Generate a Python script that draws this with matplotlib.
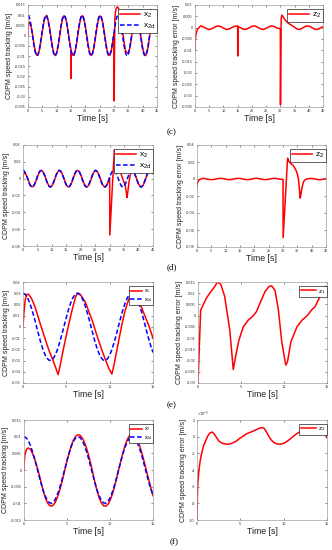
import numpy as np
import matplotlib
matplotlib.use('Agg')
import matplotlib.pyplot as plt
from matplotlib.ticker import FuncFormatter
from matplotlib.lines import Line2D

plt.rcParams['font.family'] = ['Liberation Sans', 'DejaVu Sans']
plt.rcParams['mathtext.fontset'] = 'custom'
plt.rcParams['mathtext.rm'] = 'Liberation Sans'
plt.rcParams['mathtext.it'] = 'Liberation Sans'

# ---------------- data ----------------
# 45 s runs, 0.5 s sampling
t45 = np.arange(0, 45.01, 0.5)
x2d_45 = [0.0100, 0.0088, 0.0054, 0.0007, -0.0042, -0.0080, -0.0099, -0.0094, -0.0065, -0.0021,
          0.0028, 0.0071, 0.0096, 0.0098, 0.0075, 0.0035, -0.0015, -0.0060, -0.0091, -0.0100,
          -0.0084, -0.0048, 0.0000, 0.0048, 0.0084, 0.0100, 0.0091, 0.0060, 0.0014, -0.0036,
          -0.0076, -0.0098, -0.0096, -0.0070, -0.0028, 0.0022, 0.0066, 0.0094, 0.0099, 0.0080,
          0.0041, -0.0008, -0.0055, -0.0088, -0.0100, -0.0087, -0.0053, -0.0006, 0.0042, 0.0081,
          0.0099, 0.0093, 0.0065, 0.0020, -0.0029, -0.0072, -0.0096, -0.0098, -0.0075, -0.0034,
          0.0015, 0.0061, 0.0092, 0.0100, 0.0083, 0.0047, -0.0001, -0.0049, -0.0085, -0.0100,
          -0.0090, -0.0059, -0.0013, 0.0036, 0.0077, 0.0098, 0.0096, 0.0070, 0.0027, -0.0023,
          -0.0067, -0.0094, -0.0099, -0.0079, -0.0040, 0.0009, 0.0056, 0.0089, 0.0100, 0.0087,
          0.0053]
x2_45 = [0.0100, 0.0088, 0.0059, 0.0014, -0.0034, -0.0074, -0.0096, -0.0094, -0.0069, -0.0027,
         0.0020, 0.0065, 0.0092, 0.0098, 0.0078, 0.0041, -0.0007, -0.0053, -0.0086, -0.0098,
         -0.0086, -0.0053, -0.0008, 0.0041, 0.0078, 0.0097, 0.0092, 0.0064, 0.0021, -0.0029,
         -0.0076, -0.0095, -0.0096, -0.0074, -0.0035, 0.0015, 0.0059, 0.0090, 0.0098, 0.0083,
         0.0047, -0.0001, -0.0047, -0.0083, -0.0098, -0.0089, -0.0058, -0.0013, 0.0034, 0.0075,
         0.0096, 0.0093, 0.0069, 0.0026, -0.0021, -0.0066, -0.0092, -0.0098, -0.0078, -0.0038,
         0.0015, 0.0061, 0.0092, 0.0100, 0.0083, 0.0047, -0.0001, -0.0049, -0.0085, -0.0100,
         -0.0091, -0.0063, -0.0020, 0.0029, 0.0070, 0.0095, 0.0096, 0.0074, 0.0034, -0.0016,
         -0.0060, -0.0090, -0.0098, -0.0082, -0.0046, 0.0002, 0.0048, 0.0084, 0.0098, 0.0089,
         0.0058]
# error ripple, 1 s sampling
t45e = np.arange(0, 45.01, 1.0)
z2_45 = [-0.0100, 0.0005, 0.0008, 0.0003, -0.0004, -0.0008, -0.0004, 0.0003, 0.0008, 0.0005,
         -0.0002, -0.0008, -0.0006, 0.0001, 0.0007, 0.0007, 0.0000, -0.0007, -0.0007, -0.0001,
         0.0006, 0.0008, 0.0002, -0.0005, -0.0008, -0.0003, 0.0004, 0.0008, 0.0004, -0.0003,
         -0.0005, 0.0, 0.0, 0.0, 0.0, -0.0001, -0.0007, -0.0007, 0.0000, 0.0007,
         0.0007, 0.0001, -0.0006, -0.0008, -0.0002, 0.0005]

# start transient (shared by the speed loops)
st_t = [0, 0.05, 0.1, 0.2, 0.3, 0.4, 0.5, 0.75, 1.0]
st_x2 = [0.0, 0.0030, 0.0045, 0.0055, 0.0062, 0.0065, 0.0066, 0.0062, 0.0049]
st_z2 = [-0.0100, -0.0070, -0.0055, -0.0043, -0.0034, -0.0027, -0.0022, -0.0011, -0.0005]

# (c) disturbance events
c15_t = [14.9, 15.0, 15.02, 15.1, 15.3]
c15_x2 = [-0.0062, -0.0068, -0.0210, -0.0077, -0.0088]
c15_z2 = [0.0006, 0.0008, -0.0125, 0.0005, 0.0004]
c30_t = [29.5, 29.9, 30.0, 30.05, 30.15, 30.3, 30.5, 30.8, 31.2, 31.6, 32.2, 33.0, 34.0, 35.0]
c30_x2 = [-0.0037, 0.0001, 0.0009, -0.0320, -0.0120, 0.0084, 0.0116, 0.0134, 0.0141, 0.0133,
          0.0097, 0.0017, -0.0075, -0.0088]
c30_z2 = [-0.0003, -0.0005, -0.0006, -0.0340, -0.0150, 0.0040, 0.0055, 0.0052, 0.0043, 0.0035,
          0.0026, 0.0018, 0.0010, 0.0002]

# (d) disturbance event
d30_t = [29.5, 29.9, 30.0, 30.05, 31.6, 32.0, 32.5, 33.0, 33.5, 34.0, 34.5, 35.0, 35.4, 35.8,
         36.0, 36.3, 36.7, 37.2, 37.7, 38.3, 39.0]
d30_x2 = [-0.0037, 0.0001, 0.0010, -0.0670, 0.0340, 0.0300, 0.0240, 0.0170, 0.0110, 0.0050,
          0.0000, -0.0045, -0.0085, -0.0170, -0.0225, -0.0155, -0.0040, 0.0058, 0.0092, 0.0083,
          0.0032]
d30_z2 = [-0.0003, -0.0005, -0.0005, -0.0690, 0.0245, 0.0210, 0.0190, 0.0175, 0.0160, 0.0135,
          0.0105, 0.0060, 0.0000, -0.0150, -0.0225, -0.0170, -0.0090, -0.0030, -0.0010, 0.0000,
          0.0005]

# 15 s runs, 0.25 s sampling
t15 = np.arange(0, 15.01, 0.25)
cos15 = [1.000, 0.969, 0.878, 0.732, 0.540, 0.315, 0.071, -0.178, -0.416, -0.628,
         -0.801, -0.924, -0.990, -0.994, -0.936, -0.820, -0.654, -0.447, -0.211, 0.038,
         0.284, 0.512, 0.709, 0.861, 0.960, 1.000, 0.977, 0.893, 0.754, 0.568,
         0.347, 0.104, -0.146, -0.386, -0.602, -0.780, -0.911, -0.985, -0.997, -0.948,
         -0.839, -0.679, -0.476, -0.246, 0.004, 0.251, 0.483, 0.684, 0.844, 0.950,
         0.998, 0.984, 0.907, 0.774, 0.595, 0.383, 0.137, -0.115, -0.355, -0.573,
         -0.760]
x1d_amp = 0.03
x2d_amp = 0.01

# (e) position loop
e_t = [0, 0.1, 0.25, 0.45, 0.6, 0.8, 1.0, 1.25, 1.5, 2.0, 2.5, 3.0, 3.5, 3.8, 4.05, 4.3, 4.6,
       5.0, 5.3, 5.6, 5.9, 6.1, 6.35, 6.6, 6.9, 7.2, 7.6, 8.0, 8.5, 9.0, 9.5, 9.9, 10.25, 10.5,
       10.8, 11.1, 11.4, 11.7, 12.0, 12.25, 12.5, 12.7, 13.0, 13.3, 13.6, 14.0, 14.5, 15.0]
e_x1 = [0.0, 0.012, 0.024, 0.0288, 0.0292, 0.0275, 0.025, 0.0205, 0.015, 0.0025, -0.0095,
        -0.021, -0.0305, -0.037, -0.0425, -0.034, -0.022, -0.0075, 0.003, 0.013, 0.022, 0.0275,
        0.0302, 0.029, 0.0255, 0.022, 0.0135, 0.0055, -0.007, -0.0185, -0.029, -0.037, -0.042,
        -0.034, -0.022, -0.010, 0.0015, 0.012, 0.020, 0.0255, 0.0285, 0.0285, 0.0265, 0.0235,
        0.019, 0.011, 0.0015, -0.0100]
ez_t = [0, 0.31, 0.5, 0.97, 1.36, 1.95, 2.26, 2.65, 3.1, 3.7, 4.1, 4.36, 4.75, 5.26, 5.84, 6.43,
        6.8, 7.2, 7.8, 8.26, 8.57, 8.96, 9.35, 9.74, 10.2, 10.4, 10.8, 11.5, 12.1, 12.7, 13.2,
        13.6, 14.1, 14.4, 14.8, 15.0]
ez_z1 = [-0.030, 0.0025, 0.004, 0.0078, 0.010, 0.013, 0.015, 0.014, 0.0086, -0.0065, -0.024,
         -0.0185, -0.011, -0.005, -0.002, 0.000, 0.0018, 0.0055, 0.0108, 0.013, 0.0133, 0.0112,
         0.0025, -0.0117, -0.022, -0.0207, -0.0117, -0.005, -0.002, 0.000, 0.0025, 0.004,
         0.0078, 0.012, 0.013, 0.013]

# (f) speed loop
f_t = [0, 0.05, 0.1, 0.2, 0.3, 0.4, 0.5, 0.75, 1.0, 1.25, 1.5, 1.75, 2.0, 2.25, 2.5, 2.75, 3.0,
       3.25, 3.5, 3.75, 4.0, 4.25, 4.5, 4.75, 5.0, 5.25, 5.5, 5.75, 6.0, 6.25, 6.5, 6.75, 7.0,
       7.25, 7.5, 7.75, 8.0, 8.25, 8.5, 8.75, 9.0, 9.25, 9.5, 9.75, 10.0, 10.25, 10.5, 10.75,
       11.0, 11.25, 11.5, 11.75, 12.0, 12.25, 12.5, 12.75, 13.0, 13.25, 13.5, 13.75, 14.0,
       14.25, 14.5, 14.75, 15.0]
f_x2 = [0.0, 3.0, 4.45, 5.5, 6.15, 6.5, 6.6, 6.2, 4.9, 3.25, 1.16, -1.23, -3.86, -6.38, -8.51,
        -9.94, -10.72, -10.81, -10.26, -9.08, -7.34, -5.15, -2.66, 0.03, 2.69, 5.12, 7.29, 8.96,
        10.08, 10.56, 10.45, 9.73, 8.46, 6.71, 4.57, 2.04, -0.86, -3.76, -6.32, -8.40, -9.89,
        -10.72, -10.87, -10.36, -9.19, -7.44, -5.24, -2.74, -0.01, 2.66, 5.18, 7.36, 9.09, 10.28,
        10.83, 10.74, 9.97, 8.64, 6.85, 4.71, 2.22, -0.35, -2.87, -5.33, -7.70]
f_z2 = [-10.0, -7.0, -5.5, -4.3, -3.4, -2.7, -2.2, -1.1, -0.5, 0.1, 0.45, 0.55, 0.3, -0.1, -0.5,
        -0.7, -0.82, -0.87, -0.9, -0.88, -0.8, -0.68, -0.55, -0.35, -0.15, 0.0, 0.2, 0.35, 0.48,
        0.56, 0.68, 0.8, 0.92, 1.03, 1.1, 1.0, 0.6, 0.1, -0.3, -0.6, -0.78, -0.87, -0.9, -0.88,
        -0.8, -0.65, -0.48, -0.28, -0.05, 0.15, 0.35, 0.52, 0.65, 0.78, 0.85, 0.9, 0.9, 0.9, 0.9,
        0.88, 0.85, 0.8, 0.68, 0.4, -0.1]  # in mm/s (x1e-3 m/s)
f_x2 = [v * 1e-3 for v in f_x2]
f_z2 = [v * 1e-3 for v in f_z2]


def splice(tb, vb, te, ve):
    tb = np.asarray(tb, float)
    vb = np.asarray(vb, float)
    keep = (tb < te[0]) | (tb > te[-1])
    t = np.concatenate([tb[keep], te])
    v = np.concatenate([vb[keep], ve])
    o = np.argsort(t, kind='stable')
    return t[o], v[o]


# assemble series
cx_t, cx_v = splice(t45, x2_45, st_t, st_x2)
cx_t, cx_v = splice(cx_t, cx_v, c15_t, c15_x2)
cx_t, cx_v = splice(cx_t, cx_v, c30_t, c30_x2)
cz_t, cz_v = splice(t45e, z2_45, st_t, st_z2)
cz_t, cz_v = splice(cz_t, cz_v, c15_t, c15_z2)
cz_t, cz_v = splice(cz_t, cz_v, c30_t, c30_z2)
dx_t, dx_v = splice(t45, x2_45, st_t, st_x2)
dx_t, dx_v = splice(dx_t, dx_v, d30_t, d30_x2)
dz_t, dz_v = splice(t45e, z2_45, st_t, st_z2)
dz_t, dz_v = splice(dz_t, dz_v, d30_t, d30_z2)
x1d_15 = [x1d_amp * c for c in cos15]
x2d_15 = [x2d_amp * c for c in cos15]

# ---------------- figure ----------------
W, H = 332, 550
fig = plt.figure(figsize=(W / 100, H / 100), dpi=100)


def rect(l, t, r, b):
    return [l / W, 1 - b / H, (r - l) / W, (b - t) / H]


RED = '#ff0000'
BLUE = '#0000ff'
SPINE = '#a0a0a0'
lw = 1.1
dash = (0, (3.0, 1.6))

YL_L = 'CDPM speed tracking [m/s]'
YL_R = 'CDPM speed tracking error [m/s]'


def style(ax, xmax, xticks, ylim, yticks, ylabel, scale=1.0):
    ax.set_xlim(0, xmax)
    ax.set_ylim(*ylim)
    ax.set_xticks(xticks)
    ax.set_yticks(yticks)
    ax.xaxis.set_major_formatter(FuncFormatter(lambda v, p: '%g' % v))
    ax.yaxis.set_major_formatter(FuncFormatter(lambda v, p: '%g' % round(v * scale, 6)))
    ax.tick_params(direction='in', length=1.4, width=0.4, labelsize=2.8, top=True, right=True,
                   pad=1.5, colors='#333333')
    for s in ax.spines.values():
        s.set_color(SPINE)
        s.set_linewidth(0.5)
    ax.set_xlabel('Time [s]', fontsize=6.3, labelpad=1.0, color='#222222')
    ax.set_ylabel(ylabel, fontsize=5.0, labelpad=1.5, color='#222222')


def legend(ax, items, fs, anchor_y=0.96):
    handles = [Line2D([], [], color=c, lw=lw, ls=ls) for c, ls, _ in items]
    labels = [lab for _, _, lab in items]
    leg = ax.legend(handles, labels, loc='upper right', bbox_to_anchor=(1.0, anchor_y),
                    fontsize=fs, frameon=True, fancybox=False, edgecolor='#222222',
                    framealpha=1, handlelength=2.4, borderpad=0.25, labelspacing=0.15,
                    handletextpad=0.35, borderaxespad=0)
    leg.get_frame().set_linewidth(0.5)


ticks45 = list(range(0, 46, 5))
ticks15 = [0, 5, 10, 15]

# (c) left
ax = fig.add_axes(rect(28, 5, 157, 107))
ax.plot(cx_t, cx_v, color=RED, lw=lw)
ax.plot(t45, x2d_45, color=BLUE, lw=lw, ls=dash)
style(ax, 45, ticks45, (-0.035, 0.015),
      [-0.035, -0.03, -0.025, -0.02, -0.015, -0.01, -0.005, 0, 0.005, 0.01, 0.015], YL_L)
legend(ax, [(RED, '-', r'$\mathregular{x_2}$'), (BLUE, dash, r'$\mathregular{x_{2d}}$')], 6)

# (c) right
ax = fig.add_axes(rect(195, 5, 323, 107))
ax.plot(cz_t, cz_v, color=RED, lw=lw)
style(ax, 45, ticks45, (-0.035, 0.01),
      [-0.035, -0.03, -0.025, -0.02, -0.015, -0.01, -0.005, 0, 0.005, 0.01], YL_R)
legend(ax, [(RED, '-', r'$\mathregular{z_2}$')], 6)

# (d) left
ax = fig.add_axes(rect(23, 145, 153, 246))
ax.plot(dx_t, dx_v, color=RED, lw=lw)
ax.plot(t45, x2d_45, color=BLUE, lw=lw, ls=dash)
style(ax, 45, ticks45, (-0.08, 0.04), [-0.08, -0.06, -0.04, -0.02, 0, 0.02, 0.04], YL_L)
legend(ax, [(RED, '-', r'$\mathregular{x_2}$'), (BLUE, dash, r'$\mathregular{x_{2d}}$')], 6)

# (d) right
ax = fig.add_axes(rect(197, 145, 326, 247))
ax.plot(dz_t, dz_v, color=RED, lw=lw)
style(ax, 45, ticks45, (-0.08, 0.04), [-0.08, -0.06, -0.04, -0.02, 0, 0.02, 0.04], YL_R)
legend(ax, [(RED, '-', r'$\mathregular{z_2}$')], 6)

# (e) left
ax = fig.add_axes(rect(23, 282, 153, 383))
ax.plot(e_t, e_x1, color=RED, lw=lw)
ax.plot(t15, x1d_15, color=BLUE, lw=lw, ls=dash)
style(ax, 15, ticks15, (-0.05, 0.04),
      [-0.05, -0.04, -0.03, -0.02, -0.01, 0, 0.01, 0.02, 0.03, 0.04], YL_L)
legend(ax, [(RED, '-', r'$\mathregular{x_1}$'), (BLUE, dash, r'$\mathregular{x_{1d}}$')], 3.6)

# (e) right
ax = fig.add_axes(rect(198, 282, 327, 383))
ax.plot(ez_t, ez_z1, color=RED, lw=lw)
style(ax, 15, ticks15, (-0.03, 0.015),
      [-0.03, -0.025, -0.02, -0.015, -0.01, -0.005, 0, 0.005, 0.01, 0.015], YL_R)
legend(ax, [(RED, '-', r'$\mathregular{z_1}$')], 4.5)

# (f) left
ax = fig.add_axes(rect(24, 420, 153, 520))
ax.plot(f_t, f_x2, color=RED, lw=lw)
ax.plot(t15, x2d_15, color=BLUE, lw=lw, ls=dash)
style(ax, 15, ticks15, (-0.015, 0.015),
      [-0.015, -0.01, -0.005, 0, 0.005, 0.01, 0.015], YL_L)
legend(ax, [(RED, '-', r'$\mathregular{x_2}$'), (BLUE, dash, r'$\mathregular{x_{2d}}$')], 3.6)

# (f) right
ax = fig.add_axes(rect(197, 420, 327, 520))
ax.plot(f_t, f_z2, color=RED, lw=lw)
style(ax, 15, ticks15, (-0.010, 0.002),
      [-0.010, -0.008, -0.006, -0.004, -0.002, 0, 0.002], YL_R, scale=1e3)
ax.text(0.0, 1.01, r'$\mathregular{\times10^{-3}}$', transform=ax.transAxes, fontsize=2.8,
        ha='left', va='bottom', color='#333333')
legend(ax, [(RED, '-', r'$\mathregular{z_2}$')], 4.5)

# panel captions
for lab, x, y in [('(c)', 172, 132), ('(d)', 172, 267), ('(e)', 172, 405), ('(f)', 174, 542)]:
    fig.text(x / W, 1 - y / H, lab, fontsize=6.5, ha='center', va='center',
             family=['Liberation Serif', 'DejaVu Serif'])

fig.savefig('out.png', dpi=100)
